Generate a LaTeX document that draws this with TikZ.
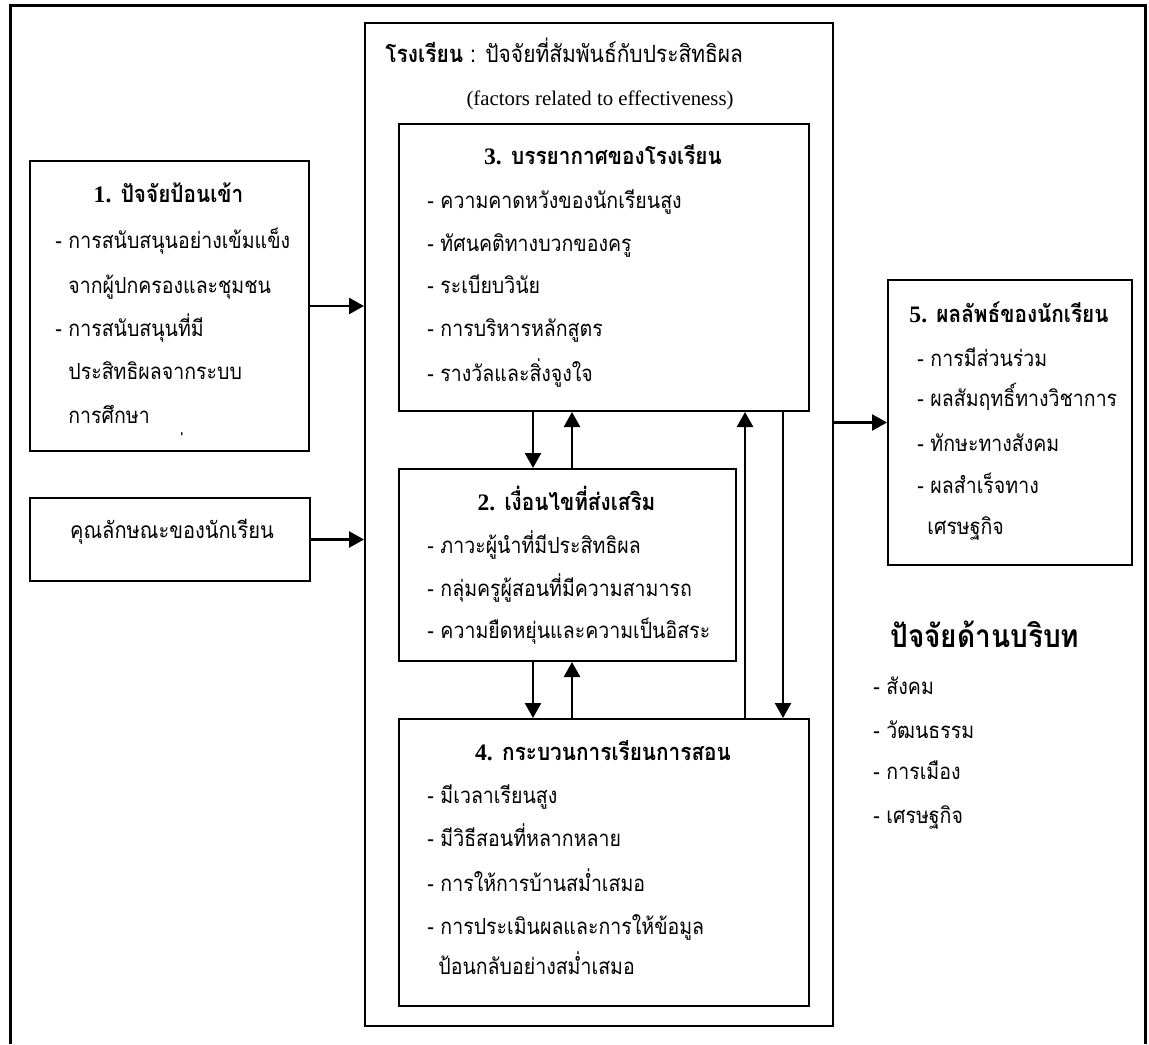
\documentclass[tikz,border=0pt]{standalone}
\usepackage{fontspec}
\setmainfont{Liberation Serif}
\newfontfamily\thai[Script=Thai,FakeStretch=0.88]{Loma}
\usetikzlibrary{arrows.meta}
\begin{document}
\begin{tikzpicture}[x=0.5pt,y=-0.5pt,
  box/.style={draw, line width=1pt, anchor=north west, inner sep=0pt, minimum width=#1},
  item/.style={anchor=base west, inner sep=0pt, font=\thai\fontsize{11.1}{13}\selectfont},
  head/.style={anchor=base, inner sep=0pt, font=\thai\bfseries\fontsize{11.8}{13}\selectfont},
  arr/.style={line width=1.25pt, -{Triangle[length=7.5pt,width=8pt]}}]
\useasboundingbox (0,0) rectangle (1149,1044);
% outer frame (open at bottom)
\draw[line width=1.5pt] (10,1044) -- (10,5) -- (1145,5) -- (1145,1044);
% boxes
\node[box=139.5pt, minimum height=145pt] (b1) at (29,160) {};
\node[box=140pt, minimum height=41.5pt] (bs) at (29,497) {};
\node[box=234pt, minimum height=501.5pt] (school) at (364,22) {};
\node[box=205pt, minimum height=143.5pt] (b3) at (398,123) {};
\node[box=168.5pt, minimum height=96pt] (b2) at (398,468) {};
\node[box=205pt, minimum height=143.5pt] (b4) at (398,718) {};
\node[box=122pt, minimum height=142.5pt] (b5) at (887,279) {};
% school title
\node[anchor=base west, inner sep=0pt, font=\thai\fontsize{11.9}{13}\selectfont] (t1) at (385,62) {{\bfseries โรงเรียน} : ปัจจัยที่สัมพันธ์กับประสิทธิผล};
\node[anchor=base, inner sep=0pt, font=\fontsize{10.4}{12}\selectfont] (t2) at (600,105) {(factors related to effectiveness)};
% box 1
\node[head] (h1) at (168.5,202) {{\rmfamily 1.} ปัจจัยป้อนเข้า};
\node[item] (i11) at (55,248) {- การสนับสนุนอย่างเข้มแข็ง};
\node[item] (i12) at (68,293) {จากผู้ปกครองและชุมชน};
\node[item] (i13) at (55,336) {- การสนับสนุนที่มี};
\node[item] (i14) at (68,379) {ประสิทธิผลจากระบบ};
\node[item] (i15) at (68,423) {การศึกษา};
\node[item] (i16) at (183,455) {่};
% student characteristics
\node[anchor=base, inner sep=0pt, font=\thai\fontsize{11.4}{13}\selectfont] (s1) at (172,538) {คุณลักษณะของนักเรียน};
% box 3
\node[head] (h3) at (603,164) {{\rmfamily 3.} บรรยากาศของโรงเรียน};
\node[item] (i31) at (427,208) {- ความคาดหวังของนักเรียนสูง};
\node[item] (i32) at (427,251) {- ทัศนคติทางบวกของครู};
\node[item] (i33) at (427,293) {- ระเบียบวินัย};
\node[item] (i34) at (427,336) {- การบริหารหลักสูตร};
\node[item] (i35) at (427,381) {- รางวัลและสิ่งจูงใจ};
% box 2
\node[head] (h2) at (566.5,510) {{\rmfamily 2.} เงื่อนไขที่ส่งเสริม};
\node[item] (i21) at (427,553) {- ภาวะผู้นำที่มีประสิทธิผล};
\node[item] (i22) at (427,596) {- กลุ่มครูผู้สอนที่มีความสามารถ};
\node[item] (i23) at (427,638) {- ความยืดหยุ่นและความเป็นอิสระ};
% box 4
\node[head] (h4) at (603,760) {{\rmfamily 4.} กระบวนการเรียนการสอน};
\node[item] (i41) at (427,803) {- มีเวลาเรียนสูง};
\node[item] (i42) at (427,846) {- มีวิธีสอนที่หลากหลาย};
\node[item] (i43) at (427,891) {- การให้การบ้านสม่ำเสมอ};
\node[item] (i44) at (427,934) {- การประเมินผลและการให้ข้อมูล};
\node[item] (i45) at (438,974) {ป้อนกลับอย่างสม่ำเสมอ};
% box 5
\node[head] (h5) at (1009,322) {{\rmfamily 5.} ผลลัพธ์ของนักเรียน};
\node[item] (i51) at (917,366) {- การมีส่วนร่วม};
\node[item] (i52) at (917,406) {- ผลสัมฤทธิ์ทางวิชาการ};
\node[item] (i53) at (917,451) {- ทักษะทางสังคม};
\node[item] (i54) at (917,493) {- ผลสำเร็จทาง};
\node[item] (i55) at (927,534) {เศรษฐกิจ};
% context
\node[anchor=base west, inner sep=0pt, font=\thai\bfseries\fontsize{15.9}{18}\selectfont] (hc) at (890,647) {ปัจจัยด้านบริบท};
\node[item] (c1) at (873,694) {- สังคม};
\node[item] (c2) at (873,738) {- วัฒนธรรม};
\node[item] (c3) at (873,779) {- การเมือง};
\node[item] (c4) at (873,823) {- เศรษฐกิจ};
% connectors
\coordinate (xa) at (533,0);
\coordinate (xb) at (572,0);
\coordinate (xc) at (745,0);
\coordinate (xd) at (783,0);
\draw[arr] (b1.east) -- (b1.east -| school.west);
\draw[arr] (bs.east) -- (bs.east -| school.west);
\draw[arr] (school.east |- b5.west) -- (b5.west);
\draw[arr] (b3.south -| xa) -- (b2.north -| xa);
\draw[arr] (b2.north -| xb) -- (b3.south -| xb);
\draw[arr] (b2.south -| xa) -- (b4.north -| xa);
\draw[arr] (b4.north -| xb) -- (b2.south -| xb);
\draw[arr] (b4.north -| xc) -- (b3.south -| xc);
\draw[arr] (b3.south -| xd) -- (b4.north -| xd);
\end{tikzpicture}
\end{document}
